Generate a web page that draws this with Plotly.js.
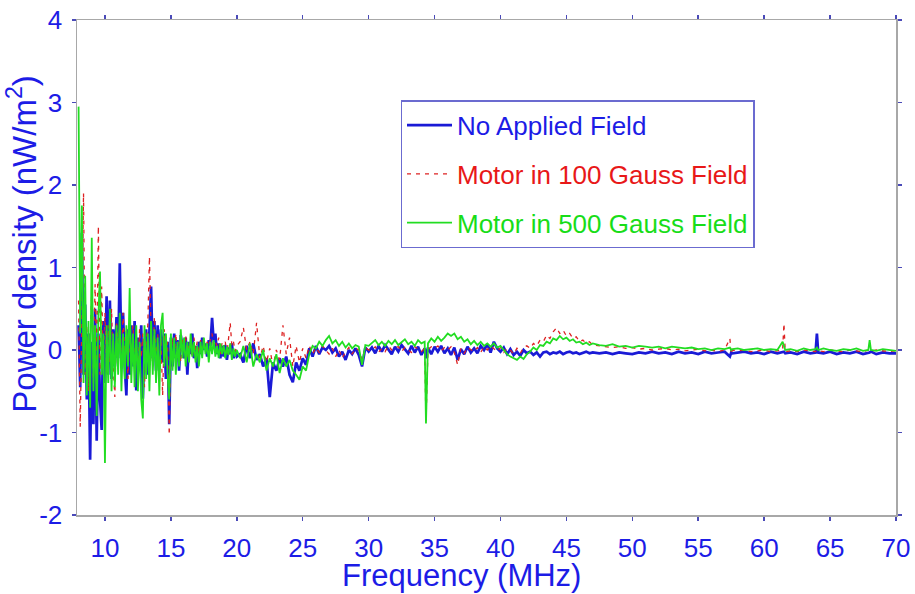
<!DOCTYPE html>
<html>
<head>
<meta charset="utf-8">
<script src="https://cdn.plot.ly/plotly-3.0.1.min.js"></script>
<style>html,body{margin:0;padding:0;background:#fff;}#chart{width:915px;height:594px;}</style>
</head>
<body>
<div id="chart"></div>
<script>
// Frequency grid (MHz)
var freq = [
  8.000, 8.125, 8.250, 8.375, 8.500, 8.625, 8.750, 8.875,
  9.000, 9.125, 9.250, 9.375, 9.500, 9.625, 9.750, 9.875,
  10.000, 10.125, 10.250, 10.375, 10.500, 10.625, 10.750, 10.875,
  11.000, 11.125, 11.250, 11.375, 11.500, 11.625, 11.750, 11.875,
  12.000, 12.125, 12.250, 12.375, 12.500, 12.625, 12.750, 12.875,
  13.000, 13.125, 13.250, 13.375, 13.500, 13.625, 13.750, 13.875,
  14.000, 14.125, 14.250, 14.375, 14.500, 14.625, 14.750, 14.875,
  15.000, 15.125, 15.250, 15.375, 15.500, 15.625, 15.750, 15.875,
  16.000, 16.125, 16.250, 16.375, 16.500, 16.625, 16.750, 16.875,
  17.000, 17.125, 17.250, 17.375, 17.500, 17.625, 17.750, 17.875,
  18.000, 18.125, 18.250, 18.375, 18.500, 18.625, 18.750, 18.875,
  19.000, 19.125, 19.250, 19.375, 19.500, 19.625, 19.750, 19.875,
  20.000,
  20.25, 20.5, 20.75, 21.0, 21.25, 21.5, 21.75, 22.0,
  22.25, 22.5, 22.75, 23.0, 23.25, 23.5, 23.75, 24.0,
  24.25, 24.5, 24.75, 25.0, 25.25, 25.5, 25.75, 26.0,
  26.25, 26.5, 26.75, 27.0, 27.25, 27.5, 27.75, 28.0,
  28.25, 28.5, 28.75, 29.0, 29.25, 29.5, 29.75, 30.0,
  30.25, 30.5, 30.75, 31.0,
  31.25, 31.5, 31.75, 32.0,
  32.25, 32.5, 32.75, 33.0,
  33.25, 33.5, 33.75, 34.0,
  34.25, 34.35, 34.5, 34.75, 35.0,
  35.25, 35.5, 35.75, 36.0,
  36.25, 36.5, 36.75, 37.0,
  37.25, 37.5, 37.75, 38.0,
  38.25, 38.5, 38.75, 39.0,
  39.25, 39.5, 39.75, 40.0,
  40.25, 40.5, 40.75, 41.0,
  41.25, 41.5, 41.75, 42.0,
  42.25, 42.5, 42.75, 43.0,
  43.25, 43.5, 43.75, 44.0,
  44.25, 44.5, 44.75, 45.0,
  45.25, 45.5, 45.75, 46.0,
  46.25, 46.5, 46.75, 47.0,
  47.5, 48, 48.5, 49, 49.5, 50, 50.5, 51, 51.5, 52,
  52.5, 53, 53.5, 54, 54.5, 55, 55.5, 56, 56.5, 57,
  57.4, 57.5, 57.6, 58, 58.5, 59, 59.5, 60, 60.5, 61,
  61.4, 61.5, 61.6, 62, 62.5, 63, 63.5, 63.9, 64, 64.1,
  64.5, 65, 65.5, 66, 66.5, 67, 67.5, 67.9, 68, 68.1,
  68.5, 69, 69.5, 70
];

// No Applied Field (nW/m^2)
var noField = [
  0.3, -0.45, 1.42, -0.3, 0.55, -0.6, 0.2, -1.33,
  0.1, -0.9, 0.5, -1.1, 0.2, -0.6, -0.97, 0.35,
  -0.4, 0.65, -0.3, 0.6, -0.35, 0.25, -0.2, 0.4,
  -0.1, 1.05, -0.12, 0.45, -0.2, -0.55, 0.25, -0.3,
  0.3, -0.2, 0.35, -0.49, 0.15, -0.25, 0.3, -0.59,
  0.1, 0.25, -0.3, 0.2, 0.77, -0.1, 0.35, -0.25,
  0.3, -0.2, 0.25, -0.15, 0.2, -0.35, 0.1, -0.9,
  0.15, -0.2, 0.2, -0.1, 0.12, -0.25, 0.18, 0.05,
  -0.1, 0.15, -0.3, 0.1, -0.05, 0.2, -0.1, 0.05,
  -0.22, 0.1, -0.05, 0.15, 0.0, 0.08, -0.08, 0.12,
  0.05, 0.39, 0.1, 0.2, -0.05, 0.08, -0.1, 0.05,
  -0.08, 0.06, -0.12, 0.03, -0.05, 0.08, -0.1, 0.0,
  -0.08,
  -0.05, -0.15, 0.05, -0.1, 0.08, -0.12, -0.05, -0.2,
  -0.1, -0.57, -0.15, -0.25, -0.1, -0.2, -0.08, -0.3,
  -0.39, -0.15, -0.25, -0.1, -0.18, 0.02, -0.08, 0.05,
  -0.05, 0.03, 0.0, 0.05, -0.03, 0.02, -0.08, -0.02,
  -0.12, 0.0, -0.05, 0.02, -0.06, -0.2, 0.03, -0.02,
  0.03, -0.04, 0.05, -0.02,
  0.06, 0.0, -0.05, 0.04,
  -0.02, 0.06, 0.01, -0.04,
  0.05, -0.03, 0.04, -0.06,
  0.02, -0.1, 0.03, -0.05, 0.04,
  -0.02, 0.05, -0.04, 0.02,
  -0.06, 0.03, -0.12, 0.01,
  -0.05, 0.04, -0.03, 0.02,
  -0.04, 0.05, 0.0, 0.07,
  -0.03, 0.1, 0.02, -0.02,
  0.03, -0.05, 0.01, -0.06,
  -0.02, -0.07, 0.0, -0.04,
  -0.02, -0.06, -0.03, -0.08,
  -0.03, -0.02, -0.05, -0.03,
  -0.04, -0.02, -0.05, -0.03,
  -0.02, -0.04, -0.03, -0.05,
  -0.03, -0.02, -0.04, -0.03,
  -0.04, -0.03, -0.05, -0.03, -0.04, -0.05, -0.03, -0.04, -0.02, -0.04,
  -0.03, -0.05, -0.02, -0.04, -0.03, -0.05, -0.02, -0.04, -0.03, -0.02,
  -0.08, -0.03, -0.04, -0.03, -0.02, -0.04, -0.03, -0.05, -0.02, -0.04,
  -0.03, -0.02, -0.04, -0.03, -0.05, -0.02, -0.04, -0.03, 0.2, -0.03,
  -0.04, -0.02, -0.05, -0.03, -0.04, -0.02, -0.05, -0.04, -0.03, -0.02,
  -0.05, -0.03, -0.04, -0.04
];

// Motor in 100 Gauss Field
var gauss100 = [
  0.6, -0.93, 0.4, 1.9, -0.3, 0.3, -0.5, 0.15,
  0.7, -0.4, 0.8, -0.2, 1.5, -0.3, 0.77, -0.2,
  0.45, -0.3, 0.3, -0.15, 0.5, -0.2, -0.57, 0.35,
  0.1, 0.3, -0.25, 0.45, -0.1, 0.25, -0.35, 0.2,
  -0.15, 0.3, -0.2, 0.15, -0.3, 0.25, -0.1, 0.2,
  -0.45, 0.1, 0.3, 1.13, 0.2, -0.2, 0.4, -0.1,
  0.2, -0.35, 0.15, -0.55, 0.25, -0.1, 0.1, -1.03,
  0.05, 0.15, -0.1, 0.2, -0.05, 0.1, -0.15, 0.12,
  0.0, 0.18, -0.08, 0.1, 0.05, -0.1, 0.15, 0.0,
  0.1, -0.05, 0.12, 0.02, 0.15, -0.02, 0.1, 0.05,
  0.12, 0.2, 0.0, 0.1, 0.05, 0.15, -0.05, 0.08,
  0.0, 0.1, -0.05, 0.12, 0.33, 0.05, 0.1, -0.02,
  0.05,
  0.1, 0.27, 0.0, 0.1, -0.05, 0.33, -0.1, 0.05,
  -0.15, 0.02, -0.2, 0.0, -0.12, 0.3, -0.05, 0.15,
  -0.2, 0.05, -0.15, 0.02, -0.1, 0.05, -0.05, 0.03,
  -0.03, 0.05, 0.0, -0.05, 0.02, -0.08, 0.0, -0.1,
  -0.02, 0.03, -0.05, 0.02, 0.0, -0.12, 0.03, 0.0,
  0.0, 0.04, -0.03, 0.02,
  -0.02, 0.05, 0.0, 0.03,
  0.04, -0.02, 0.03, 0.0,
  -0.03, 0.04, 0.01, -0.02,
  0.02, -0.88, 0.0, 0.04, 0.02,
  0.05, -0.01, 0.03, 0.0,
  0.04, -0.03, -0.18, 0.02,
  -0.04, 0.03, 0.0, -0.02,
  0.03, -0.03, 0.04, 0.0,
  0.05, 0.02, -0.02, 0.03,
  -0.03, 0.02, 0.0, -0.05,
  0.02, -0.04, 0.03, 0.05,
  0.02, 0.08, 0.05, 0.12,
  0.1, 0.18, 0.14, 0.22,
  0.27, 0.2, 0.24, 0.17,
  0.2, 0.14, 0.16, 0.1,
  0.12, 0.08, 0.1, 0.06,
  0.05, 0.04, 0.03, 0.04, 0.02, 0.03, 0.01, 0.02, 0.0, 0.01,
  0.02, 0.0, 0.01, -0.01, 0.0, 0.01, -0.01, 0.0, -0.02, 0.0,
  0.14, -0.05, 0.0, -0.01, 0.0, -0.02, -0.01, 0.0, -0.02, -0.01,
  0.0, 0.32, -0.02, -0.01, -0.02, 0.0, -0.01, -0.02, 0.0, -0.01,
  -0.02, 0.0, -0.01, -0.02, 0.0, -0.01, -0.02, 0.0, -0.01, -0.02,
  0.0, -0.01, -0.02, -0.01
];

// Motor in 500 Gauss Field
var gauss500 = [
  2.95, 0.2, 1.75, -0.4, 0.9, -0.55, 0.35, -0.7,
  1.36, -0.5, 0.3, -0.8, 0.4, 0.95, -0.3, 0.2,
  -1.37, 0.3, -0.4, 0.5, -0.5, 0.2, -0.45, 0.3,
  -0.3, 0.45, -0.5, 0.2, -0.35, 0.3, -0.2, 0.75,
  -0.4, 0.2, -0.45, 0.3, -0.5, 0.1, -0.6, -0.83,
  0.3, -0.35, 0.2, -0.5, 0.35, -0.3, 0.25, -0.4,
  0.15, -0.55, 0.3, 0.45, -0.2, 0.2, -0.3, -0.6,
  0.2, -0.25, 0.15, -0.3, 0.1, -0.2, 0.25, -0.1,
  0.15, -0.2, 0.1, -0.15, 0.2, -0.08, 0.1, -0.15,
  0.05, -0.2, 0.1, -0.1, 0.15, -0.05, 0.08, -0.15,
  0.1, -0.05, 0.12, -0.08, 0.05, -0.1, 0.08, -0.05,
  0.06, -0.1, 0.04, -0.06, 0.08, -0.12, 0.02, -0.08,
  0.0,
  -0.1, 0.05, -0.15, 0.08, -0.2, -0.05, -0.15, 0.0,
  -0.25, -0.1, -0.2, -0.05, -0.28, -0.1, -0.2, -0.12,
  -0.25, -0.3, -0.36, -0.2, -0.25, -0.05, 0.05, 0.02,
  0.1, 0.05, 0.12, 0.17, 0.08, 0.12, 0.05, 0.1,
  0.03, 0.08, 0.02, 0.06, 0.04, -0.18, 0.06, 0.05,
  0.08, 0.12, 0.06, 0.1,
  0.05, 0.11, 0.07, 0.12,
  0.06, 0.1, 0.13, 0.07,
  0.1, 0.05, 0.12, 0.08,
  0.1, -0.89, 0.08, 0.14, 0.1,
  0.16, 0.11, 0.15, 0.2,
  0.17, 0.2, 0.13, 0.16,
  0.1, 0.13, 0.07, 0.11,
  0.06, 0.1, 0.05, 0.08,
  0.04, 0.08, 0.03, 0.05,
  0.0, -0.05, -0.08, -0.1,
  -0.12, -0.08, -0.11, -0.05,
  -0.02, 0.03, 0.0, 0.06,
  0.05, 0.1, 0.08, 0.14,
  0.12, 0.17, 0.13, 0.15,
  0.11, 0.13, 0.09, 0.1,
  0.07, 0.09, 0.06, 0.08,
  0.06, 0.05, 0.07, 0.04, 0.05, 0.03, 0.05, 0.04, 0.03, 0.04,
  0.02, 0.04, 0.03, 0.02, 0.03, 0.01, 0.02, 0.0, 0.02, 0.01,
  0.03, 0.0, 0.01, 0.02, 0.0, 0.01, 0.02, 0.0, 0.01, 0.0,
  0.1, 0.05, 0.0, 0.01, -0.01, 0.02, 0.0, 0.01, 0.03, 0.0,
  0.02, 0.0, -0.01, 0.01, 0.0, 0.02, -0.01, 0.0, 0.12, 0.0,
  -0.01, 0.01, 0.0, -0.01
];

var seriesNames = ['No Applied Field', 'Motor in 100 Gauss Field', 'Motor in 500 Gauss Field'];
var xTickVals = [10, 15, 20, 25, 30, 35, 40, 45, 50, 55, 60, 65, 70];
var xTickText = ['10', '15', '20', '25', '30', '35', '40', '45', '50', '55', '60', '65', '70'];
var yTickVals = [-2, -1, 0, 1, 2, 3, 4];
var yTickText = ['-2', '-1', '0', '1', '2', '3', '4'];
var xTitle = 'Frequency (MHz)';
var yTitle = 'Power density (nW/m<sup>2</sup>)';

var FONT = 'Liberation Sans, Arial, Helvetica, sans-serif';
var BLUE = '#1a1ad6';
var RED = '#dd2222';
var GREEN = '#22dd22';
var TXT_BLUE = '#1c1ce6';
var TXT_RED = '#e81818';
var TXT_GREEN = '#18dd18';

var traces = [
  {x: freq, y: noField, type: 'scatter', mode: 'lines', legendgroup: 'a',
   name: '<span style="color:' + TXT_BLUE + '">' + seriesNames[0] + '</span>',
   line: {color: BLUE, width: 2.7}},
  {x: freq, y: gauss100, type: 'scatter', mode: 'lines', legendgroup: 'b',
   name: '<span style="color:' + TXT_RED + '">' + seriesNames[1] + '</span>',
   line: {color: RED, width: 1.3, dash: '4px,5px'}},
  {x: freq, y: gauss500, type: 'scatter', mode: 'lines', legendgroup: 'c',
   name: '<span style="color:' + TXT_GREEN + '">' + seriesNames[2] + '</span>',
   line: {color: GREEN, width: 1.8}}
];

var axisCommon = {
  showline: true, linecolor: '#a8a8a8', linewidth: 1.5, mirror: 'ticks',
  ticks: 'outside', ticklen: 4, tickwidth: 1.5, tickcolor: '#4a4ab8',
  showgrid: false, zeroline: false,
  tickfont: {family: FONT, size: 26, color: TXT_BLUE}
};

var layout = {
  width: 915, height: 594,
  paper_bgcolor: '#ffffff', plot_bgcolor: '#ffffff',
  margin: {l: 77, r: 19, t: 20, b: 79},
  showlegend: true,
  xaxis: Object.assign({}, axisCommon, {
    range: [7.88, 70], tickmode: 'array', tickvals: xTickVals, ticktext: xTickText,
    ticklabelstandoff: 5
  }),
  yaxis: Object.assign({}, axisCommon, {
    range: [-2, 4], tickmode: 'array', tickvals: yTickVals, ticktext: yTickText,
    ticklabelstandoff: 4
  }),
  legend: {
    x: 0.395, y: 0.838, xanchor: 'left', yanchor: 'top',
    bgcolor: '#ffffff', bordercolor: '#6b6bd0', borderwidth: 1.5,
    font: {family: FONT, size: 26, color: TXT_BLUE},
    traceorder: 'grouped', tracegroupgap: 12, itemwidth: 45
  },
  annotations: [
    {text: xTitle, xref: 'paper', yref: 'paper', x: 0.47, y: -0.1232,
     xanchor: 'center', yanchor: 'middle', showarrow: false, borderpad: 0,
     font: {family: FONT, size: 31, color: TXT_BLUE}},
    {text: yTitle, xref: 'paper', yref: 'paper', x: -0.0672, y: 0.548,
     xanchor: 'center', yanchor: 'middle', showarrow: false, textangle: -90, borderpad: 0,
     font: {family: FONT, size: 33, color: TXT_BLUE}}
  ]
};

Plotly.newPlot('chart', traces, layout, {staticPlot: true, displayModeBar: false});
</script>
</body>
</html>
